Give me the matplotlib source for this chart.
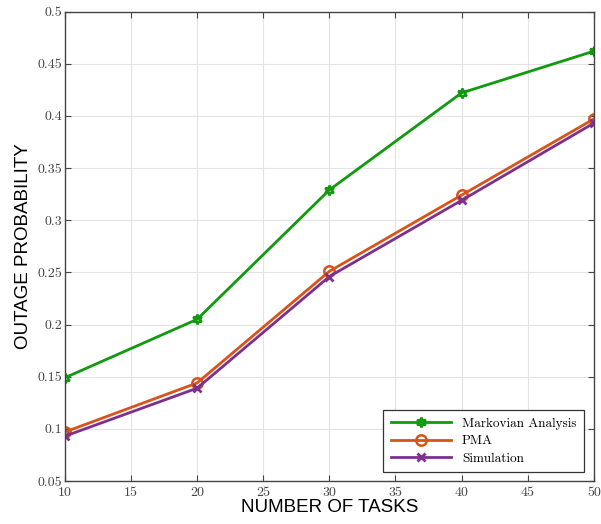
import matplotlib
matplotlib.use("Agg")
import matplotlib.pyplot as plt

# data
tasks = [10, 20, 30, 40, 50]
markovian = [0.149, 0.205, 0.329, 0.422, 0.462]
pma = [0.097, 0.144, 0.251, 0.324, 0.397]
simulation = [0.093, 0.139, 0.246, 0.319, 0.393]

xticks = [10, 15, 20, 25, 30, 35, 40, 45, 50]
yticks = [0.05, 0.1, 0.15, 0.2, 0.25, 0.3, 0.35, 0.4, 0.45, 0.5]

serif = ['cmr10', 'DejaVu Serif']
plt.rcParams['axes.formatter.use_mathtext'] = True

fig = plt.figure(figsize=(6.01, 5.24), dpi=100)
ax = fig.add_axes([0.108, 0.082, 0.880, 0.896])

ax.plot(tasks, markovian, color='#11990f', lw=2, marker=(6, 1, 0),
        ms=7, mfc='none', mew=1.8, label='Markovian Analysis')
ax.plot(tasks, pma, color='#D95319', lw=2, marker='o',
        ms=7.5, mfc='none', mew=1.8, label='PMA')
ax.plot(tasks, simulation, color='#7E2F8E', lw=2, marker='x',
        ms=6, mew=2, label='Simulation')

ax.set_xlim(10, 50)
ax.set_ylim(0.05, 0.5)
ax.set_xticks(xticks)
ax.set_yticks(yticks)
ax.set_xticklabels([str(v) for v in xticks], family=serif, fontsize=10, color='#444444')
ax.set_yticklabels(['%g' % v for v in yticks], family=serif, fontsize=10, color='#444444')

ax.grid(True, color='#e3e3e3', lw=0.8)
ax.set_axisbelow(True)
ax.tick_params(direction='in', top=True, right=True, length=4, color='#444444')
ax.tick_params(axis='x', pad=4)
ax.tick_params(axis='y', pad=2)
for s in ax.spines.values():
    s.set_color('#444444')
    s.set_linewidth(1.0)

ax.set_xlabel('NUMBER OF TASKS', family='Liberation Sans', fontsize=13.5, labelpad=0)
ax.set_ylabel('OUTAGE PROBABILITY', family='Liberation Sans', fontsize=13.5, labelpad=4)

leg = ax.legend(loc='lower right', prop={'family': serif, 'size': 9.5},
                fancybox=False, edgecolor='#333333', framealpha=1,
                handlelength=4.6, borderpad=0.55, labelspacing=0.4,
                borderaxespad=0, bbox_to_anchor=(0.981, 0.019))
leg.get_frame().set_linewidth(0.9)

fig.savefig('out.png', dpi=100)
